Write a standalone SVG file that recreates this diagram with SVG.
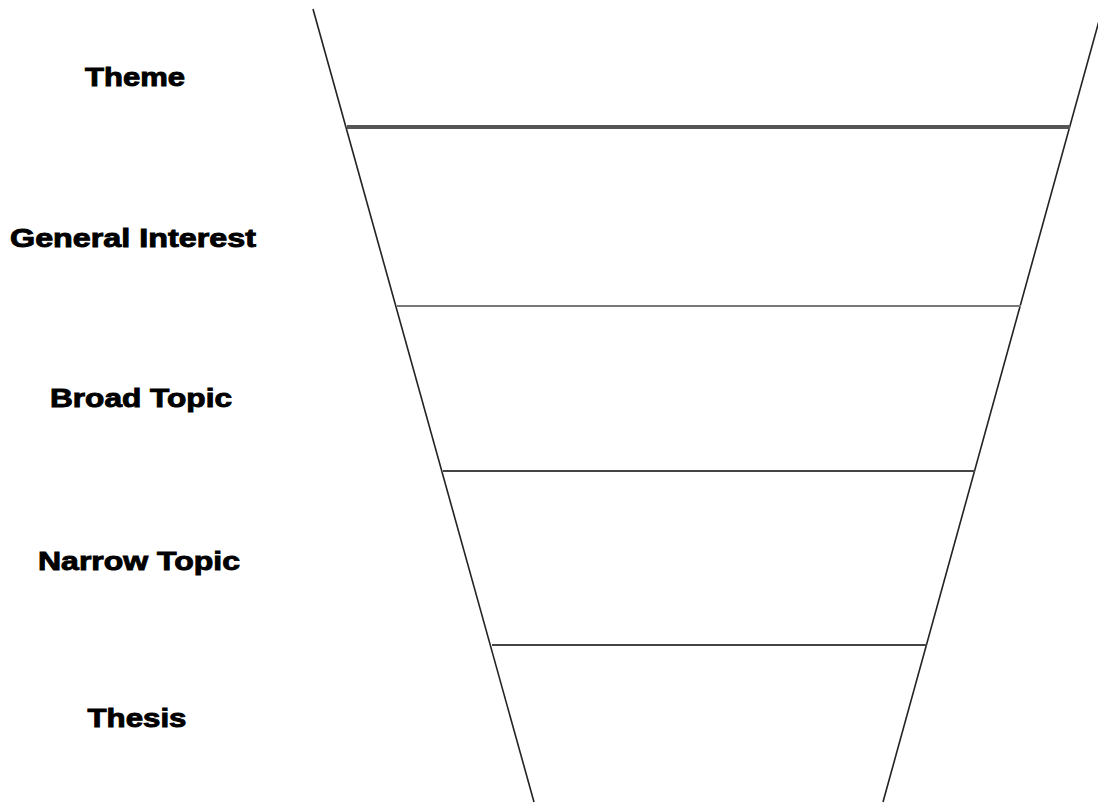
<svg xmlns="http://www.w3.org/2000/svg" width="1098" height="806" viewBox="0 0 1098 806">
<style>
.lbl{font-family:"Liberation Sans",Arial,sans-serif;font-weight:bold;font-size:25px;fill:#000;stroke:#000;stroke-width:0.9;text-anchor:middle}
.side{stroke:#222;stroke-width:1.6;fill:none}
.div{stroke:#444;stroke-width:2;fill:none}
.thick{stroke:#555;stroke-width:4}
.light{stroke:#777}
</style>
<rect width="1098" height="806" fill="#fff"/>
<g id="connectors">
<line class="side" x1="313" y1="9" x2="534" y2="802"/>
<line class="side" x1="1102" y1="10" x2="883" y2="802"/>
<line class="div thick" x1="347" y1="127" x2="1070" y2="127"/>
<line class="div light" x1="397" y1="306" x2="1021" y2="306"/>
<line class="div" x1="443" y1="471" x2="975" y2="471"/>
<line class="div" x1="492" y1="645" x2="927" y2="645"/>
</g>
<g id="theme"><text class="lbl" x="135" y="86" textLength="100" lengthAdjust="spacingAndGlyphs">Theme</text></g>
<g id="general-interest"><text class="lbl" x="133" y="247" textLength="246" lengthAdjust="spacingAndGlyphs">General Interest</text></g>
<g id="broad-topic"><text class="lbl" x="141" y="407" textLength="182" lengthAdjust="spacingAndGlyphs">Broad Topic</text></g>
<g id="narrow-topic"><text class="lbl" x="139" y="570" textLength="202" lengthAdjust="spacingAndGlyphs">Narrow Topic</text></g>
<g id="thesis"><text class="lbl" x="137" y="727" textLength="99" lengthAdjust="spacingAndGlyphs">Thesis</text></g>
</svg>
